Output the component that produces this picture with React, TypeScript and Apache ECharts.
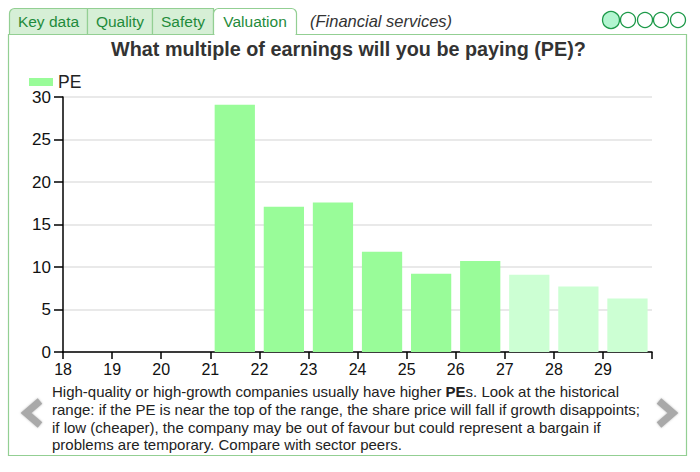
import React, { useEffect, useRef } from "react";
import * as echarts from "echarts";

const categories = ["18", "19", "20", "21", "22", "23", "24", "25", "26", "27", "28", "29"];
const peValues: (number | null)[] = [null, null, null, 29.1, 17.1, 17.6, 11.8, 9.2, 10.7, 9.1, 7.7, 6.3];
const forecastFrom = 9; // index of first forecast category (lighter bars)
const yTicks = [0, 5, 10, 15, 20, 25, 30];
const tabs = ["Key data", "Quality", "Safety", "Valuation"];
const tabEdges = [9, 87, 152, 213, 296];
const descLines = [
  "High-quality or high-growth companies usually have higher {b|PE}s. Look at the historical",
  "range: if the PE is near the top of the range, the share price will fall if growth disappoints;",
  "if low (cheaper), the company may be out of favour but could represent a bargain if",
  "problems are temporary. Compare with sector peers.",
];

const FONT = "Arial, 'Liberation Sans', Helvetica, sans-serif";
const GREEN_TEXT = "#1f8b3b";
const BORDER = "#93cf93";

export default function App() {
  const ref = useRef<HTMLDivElement>(null);
  useEffect(() => {
    if (!ref.current) return;
    const chart = echarts.init(ref.current, null, { renderer: "svg" });

    const graphics: any[] = [];
    graphics.push({
      type: "rect",
      shape: { x: 8.5, y: 34.5, width: 678, height: 421 },
      style: { fill: "#fff", stroke: BORDER, lineWidth: 1.2 },
      z: -10,
    });
    for (let i = 0; i < tabs.length; i++) {
      const x0 = tabEdges[i];
      const x1 = tabEdges[i + 1];
      const active = i === tabs.length - 1;
      let r: number[] = [0, 0, 0, 0];
      if (i === 0) r = [5, 0, 0, 0];
      if (active) r = [5, 5, 0, 0];
      graphics.push({
        type: "rect",
        shape: { x: x0 + 0.5, y: 8.5, width: x1 - x0, height: 26, r },
        style: { fill: active ? "#fff" : "#d6efd6", stroke: BORDER, lineWidth: 1.2 },
        z: -5,
      });
      if (active) {
        graphics.push({
          type: "line",
          shape: { x1: x0 + 1.5, y1: 34.5, x2: x1 - 0.5, y2: 34.5 },
          style: { stroke: "#fff", lineWidth: 2 },
          z: -4,
        });
      }
      graphics.push({
        type: "text",
        x: (x0 + x1) / 2 + 0.5,
        y: 21,
        style: {
          text: tabs[i],
          fontSize: 15.5,
          fontFamily: FONT,
          fill: GREEN_TEXT,
          align: "center",
          verticalAlign: "middle",
        },
      });
    }
    graphics.push({
      type: "text",
      x: 310,
      y: 21,
      style: {
        text: "(Financial services)",
        fontSize: 16.5,
        fontStyle: "italic",
        fontFamily: FONT,
        fill: "#333",
        verticalAlign: "middle",
      },
    });
    const cx = [611, 628, 645, 661, 678];
    cx.forEach((x, i) => {
      graphics.push({
        type: "circle",
        shape: { cx: x, cy: 20, r: i === 0 ? 8.5 : 7.5 },
        style: { fill: i === 0 ? "#b2f5d0" : "#fff", stroke: "#1e9a4a", lineWidth: 1.3 },
      });
    });
    graphics.push({
      type: "text",
      x: 348.5,
      y: 49,
      style: {
        text: "What multiple of earnings will you be paying (PE)?",
        fontSize: 19.8,
        fontWeight: "bold",
        fontFamily: FONT,
        fill: "#333",
        align: "center",
        verticalAlign: "middle",
      },
    });
    graphics.push({
      type: "text",
      x: 52,
      y: 383,
      style: {
        text: descLines.join("\n"),
        fontSize: 15,
        lineHeight: 17.6,
        fontFamily: FONT,
        fill: "#222",
        rich: {
          b: { fontWeight: "bold", fontSize: 15, fontFamily: FONT, fill: "#222", lineHeight: 17.6 },
        },
      },
    });
    graphics.push({
      type: "polyline",
      shape: { points: [[40, 401], [26, 413], [40, 425]] },
      style: { stroke: "#a9a9a9", lineWidth: 7, fill: "none", lineJoin: "miter", shadowBlur: 2, shadowColor: "#bbb" },
    });
    graphics.push({
      type: "polyline",
      shape: { points: [[659, 401], [673, 413], [659, 425]] },
      style: { stroke: "#a9a9a9", lineWidth: 7, fill: "none", lineJoin: "miter", shadowBlur: 2, shadowColor: "#bbb" },
    });

    const option: any = {
      animation: false,
      backgroundColor: "#fff",
      textStyle: { fontFamily: FONT },
      legend: {
        left: 24,
        top: 68,
        itemWidth: 24,
        itemHeight: 8,
        itemGap: 8,
        icon: "rect",
        textStyle: { fontSize: 17.5, color: "#222", fontFamily: FONT },
        data: [{ name: "PE", itemStyle: { color: "#99fc99" } }],
      },
      grid: { left: 63, right: 48, top: 97, bottom: 120, containLabel: false },
      xAxis: {
        type: "category",
        data: categories,
        boundaryGap: true,
        axisLine: { show: true, lineStyle: { color: "#000", width: 1.5 } },
        axisTick: { show: true, length: 7, lineStyle: { color: "#000", width: 1.5 } },
        axisLabel: {
          interval: 0,
          margin: 9,
          formatter: (v: string) => `{a|${v}}`,
          rich: { a: { fontSize: 16, color: "#111", fontFamily: FONT, padding: [0, 49, 0, 0] } },
        },
        splitLine: { show: false },
      },
      yAxis: {
        type: "value",
        min: yTicks[0],
        max: yTicks[yTicks.length - 1],
        interval: 5,
        axisLine: { show: true, lineStyle: { color: "#000", width: 1.5 } },
        axisTick: { show: true, length: 9, lineStyle: { color: "#000", width: 1.5 } },
        axisLabel: { fontSize: 17, color: "#111", margin: 12, fontFamily: FONT },
        splitLine: { show: true, lineStyle: { color: "#e2e2e2", width: 1.5 } },
      },
      series: [
        {
          name: "PE",
          type: "bar",
          barCategoryGap: "18%",
          itemStyle: { color: "#99fc99" },
          data: peValues.map((v, i) =>
            v === null
              ? null
              : {
                  value: v,
                  itemStyle: { color: i >= forecastFrom ? "#ccffd3" : "#99fc99" },
                }
          ),
        },
      ],
      graphic: graphics,
    };
    chart.setOption(option);
    return () => chart.dispose();
  }, []);
  return (
    <div
      ref={ref}
      style={{ position: "fixed", left: 0, top: 0, width: 700, height: 472 }}
    />
  );
}
